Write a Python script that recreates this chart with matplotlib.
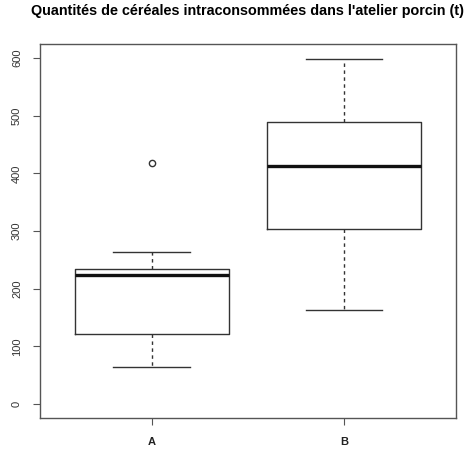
import matplotlib.pyplot as plt

# --- données ---
groupes = ["A", "B"]
moustache_basse = [64, 163]
q1 = [122, 303]
mediane = [224, 413]
q3 = [234, 489]
moustache_haute = [263, 599]
valeurs_atypiques = [[418], []]
graduations_y = [0, 100, 200, 300, 400, 500, 600]

plt.rcParams['font.family'] = ['Liberation Sans', 'DejaVu Sans']

stats = []
for i, nom in enumerate(groupes):
    stats.append({
        "label": nom,
        "whislo": moustache_basse[i],
        "q1": q1[i],
        "med": mediane[i],
        "q3": q3[i],
        "whishi": moustache_haute[i],
        "fliers": valeurs_atypiques[i],
    })

fig = plt.figure(figsize=(4.68, 4.5), dpi=100)
ax = fig.add_axes([0.0855, 0.071, 0.888, 0.831])

trait = "#333333"
ax.bxp(
    stats,
    positions=[1, 2],
    widths=0.8,
    boxprops=dict(color=trait, linewidth=1.0),
    medianprops=dict(color="#111111", linewidth=2.4, solid_capstyle="butt"),
    whiskerprops=dict(color=trait, linewidth=1.0, linestyle=(0, (2.5, 2.5))),
    capprops=dict(color=trait, linewidth=1.0),
    flierprops=dict(marker="o", markersize=4.5, markerfacecolor="none",
                    markeredgecolor=trait, markeredgewidth=1.0),
    capwidths=0.4,
)

ax.set_xlim(0.5 - 0.08, 2.5 + 0.08)
ax.set_ylim(-24, 624)
ax.set_yticks(graduations_y)
ax.set_yticklabels([str(v) for v in graduations_y], rotation=90, va="center",
                   fontsize=8, color="#333333")
ax.set_xticks([1, 2])
ax.set_xticklabels(groupes, fontsize=8, fontweight="bold", color="#222222")
ax.tick_params(axis="y", length=5, color="#555555", pad=8)
ax.tick_params(axis="x", length=5, color="#555555", pad=9)

for s in ax.spines.values():
    s.set_color("#555555")
    s.set_linewidth(1.0)

ax.set_title("Quantités de céréales intraconsommées dans l'atelier porcin (t)",
             fontsize=10.4, fontweight="bold", pad=21)

fig.savefig("out.png", dpi=100)
